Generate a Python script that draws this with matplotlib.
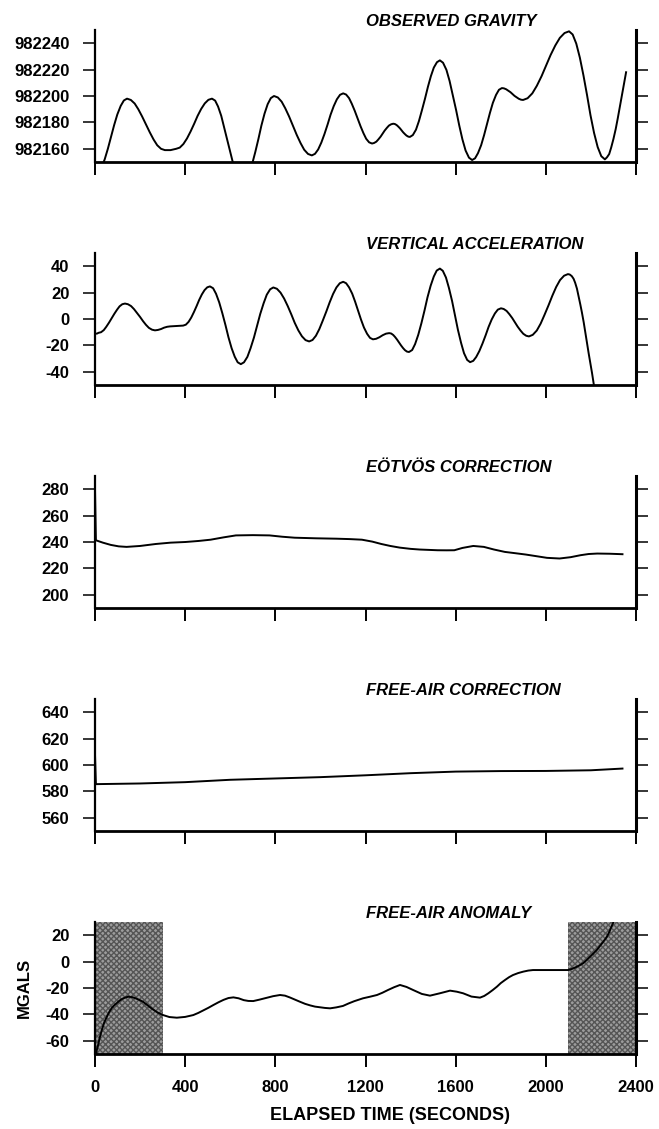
import matplotlib
matplotlib.use("Agg")
import matplotlib.pyplot as plt
from matplotlib.transforms import blended_transform_factory

plt.rcParams['font.family'] = ['Liberation Sans', 'DejaVu Sans']

# ---------------- data ----------------
time_ticks = [0, 400, 800, 1200, 1600, 2000, 2400]

grav_t = [0, 14, 28, 43, 57, 71, 85, 99, 114, 128, 142,
          159, 176, 192, 209, 226, 243, 260, 276, 293, 310, 335, 360,
          376, 392, 408, 424, 440, 455, 471, 487, 503, 519,
          533, 546, 560, 573, 587, 601, 614, 628, 641, 655,
          669, 683, 697, 711, 725, 738, 752, 766, 780, 794,
          811, 828, 844, 861, 878, 895, 912, 928, 945, 962,
          976, 990, 1004, 1018, 1032, 1045, 1059, 1073, 1087, 1101,
          1114, 1127, 1139, 1152, 1165, 1178, 1191, 1203, 1216, 1229,
          1238, 1248, 1257, 1267, 1276, 1285, 1295, 1304, 1314, 1323,
          1330, 1338, 1345, 1353, 1360, 1367, 1375, 1382, 1390, 1397,
          1410, 1424, 1437, 1450, 1464, 1477, 1490, 1503, 1517, 1530,
          1544, 1559, 1573, 1587, 1602, 1616, 1630, 1644, 1659, 1673,
          1686, 1699, 1713, 1726, 1739, 1752, 1765, 1779, 1792, 1805,
          1814, 1824, 1833, 1843, 1852, 1861, 1871, 1880, 1890, 1899,
          1919, 1940, 1960, 1981, 2001, 2021, 2042, 2062, 2083, 2103,
          2119, 2135, 2151, 2167, 2183, 2198, 2214, 2230, 2246, 2262,
          2271, 2281, 2290, 2300, 2310, 2319, 2328, 2338, 2347, 2356]
grav_v = [982140, 982141.4, 982145.5, 982152, 982160, 982169, 982178, 982186, 982192.5, 982196.6, 982198,
          982197.0, 982194.3, 982190.0, 982184.5, 982178.5, 982172.5, 982167.0, 982162.7, 982160.0, 982159, 982159, 982160,
          982160.9, 982163.6, 982167.8, 982173.1, 982179, 982184.9, 982190.2, 982194.4, 982197.1, 982198,
          982196.5, 982192, 982185, 982176.2, 982166.5, 982156.8, 982148, 982141, 982136.5, 982135,
          982136.6, 982141.2, 982148.4, 982157.5, 982167.5, 982177.5, 982186.6, 982193.8, 982198.4, 982200,
          982198.9, 982195.7, 982190.7, 982184.5, 982177.5, 982170.5, 982164.3, 982159.3, 982156.1, 982155,
          982156.2, 982159.5, 982164.7, 982171.2, 982178.5, 982185.8, 982192.3, 982197.5, 982200.9, 982202,
          982201.1, 982198.4, 982194.2, 982188.9, 982183, 982177.1, 982171.8, 982167.6, 982164.9, 982164,
          982164.4, 982165.4, 982167.1, 982169.2, 982171.5, 982173.8, 982175.9, 982177.6, 982178.6, 982179,
          982178.8, 982178, 982176.9, 982175.5, 982174, 982172.5, 982171.1, 982170, 982169.2, 982169,
          982170.4, 982174.5, 982181, 982189, 982198, 982207, 982215, 982221.5, 982225.6, 982227,
          982225.2, 982219.8, 982211.4, 982200.9, 982189.3, 982177.6, 982167.1, 982158.7, 982153.3, 982151.5,
          982152.8, 982156.7, 982162.7, 982170.3, 982178.8, 982187.2, 982194.8, 982200.8, 982204.7, 982206,
          982205.8, 982205.1, 982204.1, 982202.9, 982201.5, 982200.1, 982198.9, 982197.9, 982197.2, 982197,
          982198.3, 982202, 982207.7, 982215, 982223, 982231, 982238.3, 982244, 982247.7, 982249,
          982246.6, 982239.7, 982229, 982215.5, 982200.5, 982185.5, 982172, 982161.3, 982154.4, 982152,
          982153.5, 982156, 982161, 982167.5, 982175, 982183, 982191.5, 982200.5, 982209, 982218]

acc_t = [0, 10, 15, 27, 39, 50, 62, 74, 86, 98, 109, 121, 133,
         146, 160, 173, 186, 200, 213, 226, 239, 253, 266,
         279, 293, 306, 320, 333, 360, 391,
         403, 415, 427, 439, 451, 462, 474, 486, 498, 510,
         524, 537, 551, 565, 579, 592, 606, 620, 633, 647,
         661, 676, 690, 705, 719, 733, 748, 762, 777, 791,
         807, 823, 839, 855, 871, 886, 902, 918, 934, 950,
         965, 980, 995, 1010, 1026, 1041, 1056, 1071, 1086, 1101,
         1114, 1127, 1141, 1154, 1167, 1180, 1193, 1207, 1220, 1233,
         1247, 1262, 1276, 1291, 1305,
         1314, 1323, 1331, 1340, 1349, 1358, 1367, 1375, 1384, 1393,
         1407, 1420, 1434, 1448, 1462, 1475, 1489, 1503, 1516, 1530,
         1543, 1557, 1570, 1584, 1597, 1610, 1624, 1637, 1651, 1664,
         1678, 1691, 1705, 1719, 1733, 1746, 1760, 1774, 1787, 1801,
         1813, 1826, 1838, 1851, 1863, 1875, 1888, 1900, 1913, 1925,
         1942, 1960, 1977, 1994, 2012, 2029, 2046, 2063, 2081, 2098,
         2106, 2115, 2123, 2130, 2138, 2145, 2153, 2160, 2168, 2175, 2190, 2205, 2215, 2225]
acc_v = [-11.2, -11, -10.5, -10, -8.4, -5.9, -2.8, 0.6, 4.0, 7.1, 9.6, 11.2, 11.7,
         11.2, 9.8, 7.5, 4.7, 1.55, -1.6, -4.4, -6.7, -8.1, -8.6,
         -8.3, -7.6, -6.6, -5.9, -5.6, -5.3, -5,
         -4.3, -2.2, 1.1, 5.3, 9.9, 14.4, 18.6, 21.9, 24, 24.7,
         23.3, 19.1, 12.6, 4.3, -4.75, -13.8, -22.1, -28.6, -32.8, -34.2,
         -32.8, -28.7, -22.2, -14.1, -5.15, 3.8, 11.9, 18.4, 22.5, 23.9,
         22.9, 20, 15.5, 9.8, 3.45, -2.9, -8.6, -13.1, -16, -17,
         -15.9, -12.7, -7.7, -1.4, 5.6, 12.6, 18.9, 23.9, 27.1, 28.2,
         27.1, 24.0, 19.2, 13.1, 6.4, -0.4, -6.4, -11.2, -14.3, -15.4,
         -15, -13.8, -12.3, -11.1, -10.7,
         -11, -12.1, -13.6, -15.6, -17.85, -20.1, -22.1, -23.6, -24.7, -25,
         -23.5, -19, -12, -3.2, 6.6, 16.4, 25.2, 32.2, 36.7, 38.2,
         36.5, 31.4, 23.6, 13.7, 2.75, -8.2, -18.1, -25.9, -31, -32.7,
         -31.7, -28.8, -24.3, -18.6, -12.3, -6, -0.3, 4.2, 7.1, 8.1,
         7.6, 6.1, 3.7, 0.7, -2.55, -5.8, -8.8, -11.2, -12.7, -13.2,
         -12.0, -8.7, -3.5, 3.1, 10.4, 17.7, 24.3, 29.5, 32.8, 34,
         33.7, 32.5, 30.5, 27.5, 23, 17.5, 11, 5, -2.5, -10, -26, -41, -52, -62]

eot_t = [0, 4, 35, 70, 105, 140, 200, 270, 335, 401, 460, 513, 570, 625, 700, 774, 830, 886,
         980, 1072, 1130, 1184, 1230, 1270, 1310, 1352, 1400, 1440, 1520, 1560, 1594, 1630,
         1678, 1725, 1770, 1818, 1865, 1911, 1960, 2005, 2061, 2110, 2154, 2190, 2228, 2285, 2340]
eot_v = [280, 241.3, 239.5, 237.8, 236.7, 236.3, 237, 238.5, 239.5, 240, 240.8, 241.75, 243.5,
         245, 245.2, 245, 244, 243.25, 242.8, 242.5, 242.2, 241.75, 240.3, 238.5, 237, 235.75,
         234.8, 234.3, 233.75, 233.7, 233.75, 235.5, 237, 236.3, 234.3, 232.5, 231.5, 230.5,
         229.2, 228, 227.5, 228.5, 230, 230.9, 231.25, 231.1, 230.75]

fac_t = [0, 4, 200, 400, 600, 800, 1000, 1200, 1400, 1600, 1800, 2000, 2200, 2340]
fac_v = [608, 585.5, 586, 587, 588.8, 589.8, 590.8, 592.2, 593.8, 595, 595.4, 595.5, 596, 597.3]

fa_t = [3, 8, 14, 22, 30, 40, 52, 63, 75, 86, 97, 108, 120, 134, 148, 164, 180, 196, 213, 234,
        255, 278, 302, 330, 363, 400, 436, 458, 480, 503, 525, 548, 570, 592, 614, 637, 660, 680,
        702, 730, 760, 790, 821, 843, 865, 887, 909, 932, 955, 976, 998, 1020, 1043, 1070, 1100,
        1125, 1150, 1189, 1220, 1251, 1275, 1300, 1327, 1353, 1382, 1411, 1450, 1486, 1530, 1575,
        1605, 1633, 1670, 1708, 1727, 1745, 1764, 1783, 1800, 1820, 1837, 1854, 1877, 1900, 1922,
        1943, 2000, 2050, 2098, 2115, 2130, 2148, 2165, 2180, 2195, 2210, 2226, 2238, 2250, 2261,
        2271, 2281, 2290, 2305]
fa_v = [-72, -67, -63, -57, -52, -46.5, -42, -38.2, -35, -33, -31.4, -29.7, -28.3, -27.2, -26.6,
        -26.9, -27.8, -29, -30.4, -33.2, -36, -38.6, -40.5, -42, -42.5, -41.9, -40.5, -38.9, -37,
        -35, -32.9, -30.8, -29, -27.6, -27.1, -27.8, -29.2, -29.8, -29.9, -28.8, -27.5, -26.2,
        -25.3, -25.8, -27.2, -28.8, -30.4, -32, -33.2, -34.1, -34.6, -35.1, -35.4, -34.7, -33.6,
        -31.7, -30, -27.8, -26.6, -25.3, -23.6, -21.5, -19.4, -17.7, -19.2, -21.5, -24.5, -25.8,
        -24, -22, -22.8, -24, -26.5, -27.3, -26, -24, -21.6, -19, -16.3, -13.8, -11.8, -10.2,
        -8.7, -7.6, -6.8, -6.4, -6.4, -6.4, -6.4, -5.6, -4.5, -3, -1.3, 1, 3.5, 6, 8.8, 11.4, 14,
        16.4, 18.9, 22.2, 26, 32]

shade_spans = [(0, 300), (2100, 2400)]

panels = [
    ("OBSERVED GRAVITY", grav_t, grav_v, (982150, 982250), [982160, 982180, 982200, 982220, 982240]),
    ("VERTICAL ACCELERATION", acc_t, acc_v, (-50, 50), [-40, -20, 0, 20, 40]),
    ("EÖTVÖS CORRECTION", eot_t, eot_v, (190, 290), [200, 220, 240, 260, 280]),
    ("FREE-AIR CORRECTION", fac_t, fac_v, (550, 650), [560, 580, 600, 620, 640]),
    ("FREE-AIR ANOMALY", fa_t, fa_v, (-70, 30), [-60, -40, -20, 0, 20]),
]

# ---------------- figure ----------------
W, H = 659, 1129
fig = plt.figure(figsize=(W / 100, H / 100), dpi=100)

left_px, right_px = 95, 636
top0, step, ph = 30, 223, 132

for i, (title, t, v, ylim, yt) in enumerate(panels):
    top = top0 + step * i
    ax = fig.add_axes([left_px / W, 1 - (top + ph) / H, (right_px - left_px) / W, ph / H])
    ax.set_xlim(0, 2400)
    ax.set_ylim(*ylim)
    if i == 4:
        for a, b in shade_spans:
            ax.axvspan(a, b, facecolor='#9c9c9c', edgecolor='#555555', hatch='xxxxxx',
                       linewidth=0, zorder=1)
    ax.plot(t, v, color='black', linewidth=1.4, zorder=3, clip_on=True,
            solid_joinstyle='round')

    ax.spines['top'].set_visible(False)
    ax.spines['left'].set_linewidth(1.6)
    ax.spines['right'].set_linewidth(2.2)
    ax.spines['bottom'].set_linewidth(2.0)
    ax.set_xticks(time_ticks)
    ax.set_yticks(yt)
    ax.set_yticklabels([str(y) for y in yt])
    ax.tick_params(axis='x', direction='out', length=9.5, width=1.4, pad=9,
                   labelsize=12, labelbottom=(i == 4))
    ax.tick_params(axis='y', direction='out', length=8.5, width=1.1, pad=10,
                   labelsize=12, right=True, labelright=False)
    for lab in ax.get_xticklabels() + ax.get_yticklabels():
        lab.set_fontweight('bold')

    tr = blended_transform_factory(ax.transData, ax.transAxes)
    ax.text(1200, 1.005, title, transform=tr, ha='left', va='bottom',
            fontsize=12, fontweight='bold', fontstyle='italic')

    if i == 4:
        ax.set_ylabel("MGALS", fontsize=12, fontweight='bold', labelpad=10)

fig.text(390 / W, 1 - 1115 / H, "ELAPSED TIME (SECONDS)", ha='center', va='center',
         fontsize=13, fontweight='bold')

fig.savefig("out.png", dpi=100)
